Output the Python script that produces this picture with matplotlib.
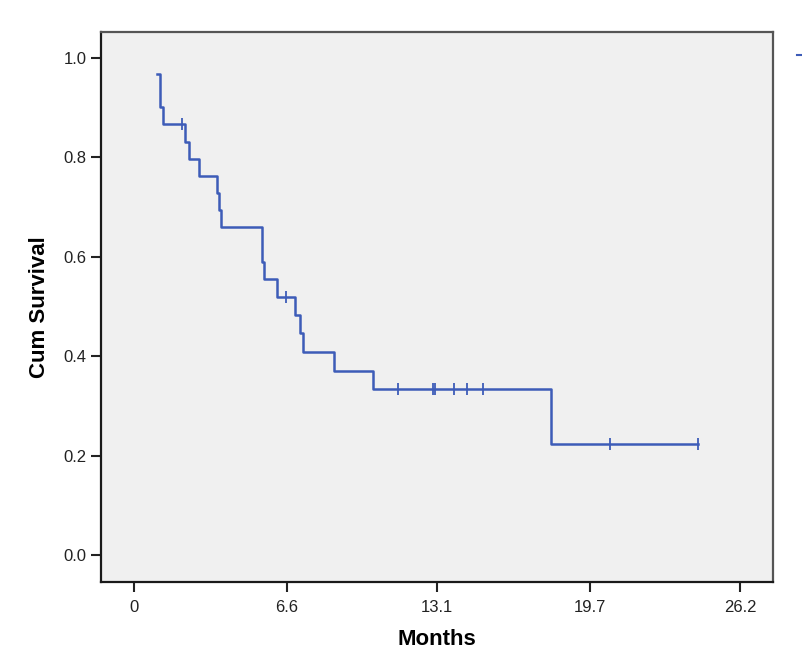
import numpy as np
import matplotlib
matplotlib.use("Agg")
import matplotlib.pyplot as plt
from matplotlib.lines import Line2D

plt.rcParams['font.family'] = ['Liberation Sans', 'DejaVu Sans']

# Kaplan-Meier step curve (months, cum survival)
step_times = [0.98, 1.12, 1.14, 1.27, 2.20, 2.39, 2.81, 3.58, 3.66, 3.75,
              5.52, 5.61, 6.20, 6.96, 7.18, 7.29, 8.66, 10.32, 18.03, 24.40]
step_surv = [0.968, 0.935, 0.901, 0.867, 0.832, 0.797, 0.763, 0.728, 0.694, 0.659,
             0.590, 0.555, 0.520, 0.483, 0.446, 0.408, 0.371, 0.334, 0.223, 0.223]

# censored observations
cens_times = [2.09, 6.56, 11.43, 12.94, 13.01, 13.83, 14.41, 15.10, 20.58, 24.40]

x_ticks = [0, 6.6, 13.1, 19.7, 26.2]
x_tick_labels = ['0', '6.6', '13.1', '19.7', '26.2']
y_ticks = [0.0, 0.2, 0.4, 0.6, 0.8, 1.0]

line_color = '#3d5cb8'

fig = plt.figure(figsize=(8.03, 6.72), dpi=100)
ax = fig.add_axes([0.1254, 0.1335, 0.8369, 0.8193])
ax.set_facecolor('#f0f0f0')

ax.step(step_times, step_surv, where='post', color=line_color, lw=1.8)

# censor marks sit on the curve
cens_y = [step_surv[np.searchsorted(step_times, t, side='right') - 1] for t in cens_times]
ax.plot(cens_times, cens_y, linestyle='none', marker='|', markersize=9,
        markeredgewidth=1.3, color=line_color)

ax.set_xlim(-1.44, 27.61)
ax.set_ylim(-0.055, 1.053)
ax.set_xticks(x_ticks)
ax.set_xticklabels(x_tick_labels)
ax.set_yticks(y_ticks)
ax.set_yticklabels(['%.1f' % v for v in y_ticks])

ax.tick_params(direction='out', length=7, width=1.5, labelsize=12, colors='#222222')
ax.tick_params(axis='x', pad=6)
ax.tick_params(axis='y', pad=3)

for side in ['left', 'bottom']:
    ax.spines[side].set_linewidth(1.6)
    ax.spines[side].set_color('#1a1a1a')
for side in ['top', 'right']:
    ax.spines[side].set_linewidth(1.6)
    ax.spines[side].set_color('#555555')

ax.set_xlabel('Months', fontsize=16, fontweight='bold', labelpad=10)
ax.set_ylabel('Cum Survival', fontsize=16, fontweight='bold', labelpad=10)

# cut-off legend fragment at the right edge
fig.add_artist(Line2D([0.9925, 1.0], [0.918, 0.918], color=line_color, lw=1.5,
                      transform=fig.transFigure))

fig.savefig('out.png', dpi=100)
